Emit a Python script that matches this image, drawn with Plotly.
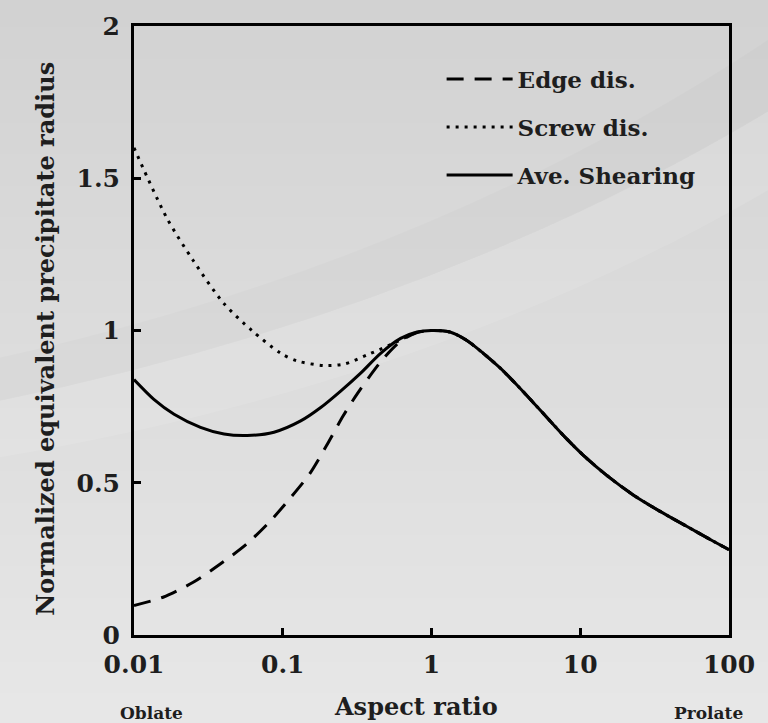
import plotly.graph_objects as go

# ---------------- data ----------------
prolate_x = [1.33, 1.72, 2.23, 2.89, 3.74, 4.84, 6.27, 8.11, 10.5, 15.0, 22.7, 34.4, 51.9, 78.5, 100]
prolate_y = [0.995, 0.968, 0.925, 0.877, 0.822, 0.763, 0.703, 0.644, 0.59, 0.525, 0.46, 0.406, 0.357, 0.308, 0.28]

edge_x = [0.01, 0.0157, 0.025, 0.038, 0.057, 0.082, 0.112, 0.152, 0.197, 0.255, 0.32, 0.46, 0.62, 0.8, 1.0]
edge_y = [0.097, 0.124, 0.173, 0.233, 0.298, 0.373, 0.449, 0.53, 0.622, 0.72, 0.795, 0.90, 0.965, 0.993, 1.0]

screw_x = [0.01, 0.0166, 0.025, 0.04, 0.062, 0.097, 0.125, 0.19, 0.26, 0.37, 0.54, 0.79, 1.0]
screw_y = [1.6, 1.37, 1.23, 1.09, 1.0, 0.925, 0.90, 0.885, 0.89, 0.92, 0.955, 0.993, 1.0]

ave_x = [0.01, 0.0136, 0.0186, 0.028, 0.0403, 0.0578, 0.0873, 0.132, 0.18, 0.245, 0.334, 0.455, 0.62, 0.8, 1.0]
ave_y = [0.839, 0.774, 0.725, 0.682, 0.66, 0.655, 0.666, 0.703, 0.747, 0.801, 0.860, 0.925, 0.974, 0.995, 1.0]

series_names = ["Edge dis.", "Screw dis.", "Ave. Shearing"]
x_tick_vals = [0.01, 0.1, 1, 10, 100]
x_tick_text = ["0.01", "0.1", "1", "10", "100"]
y_tick_vals = [0, 0.5, 1, 1.5, 2]
y_tick_text = ["0", "0.5", "1", "1.5", "2"]
x_title = "Aspect ratio"
y_title = "Normalized equivalent precipitate radius"
end_labels = ["Oblate", "Prolate"]

FONT = "DejaVu Serif"
TXT = "#1e1e1e"

fig = go.Figure()
fig.add_trace(go.Scatter(x=edge_x + prolate_x, y=edge_y + prolate_y, mode="lines",
                         name=series_names[0], legendgroup="a",
                         line=dict(color="black", width=3, dash="17px,11px", shape="spline", smoothing=0.8)))
fig.add_trace(go.Scatter(x=screw_x + prolate_x, y=screw_y + prolate_y, mode="lines",
                         name=series_names[1], legendgroup="b",
                         line=dict(color="black", width=3, dash="3px,6px", shape="spline", smoothing=0.8)))
fig.add_trace(go.Scatter(x=ave_x + prolate_x, y=ave_y + prolate_y, mode="lines",
                         name=series_names[2], legendgroup="c",
                         line=dict(color="black", width=3, shape="spline", smoothing=0.8)))

# background gradient (paper coordinates)
shapes = []
n = 24
top = (210, 210, 210)
bot = (232, 232, 232)
for i in range(n):
    t = i / (n - 1)
    c = tuple(int(round(top[k] + (bot[k] - top[k]) * t)) for k in range(3))
    y1 = 1.05 - i * (1.25 / n)
    y0 = y1 - 1.25 / n - 0.002
    shapes.append(dict(type="rect", xref="paper", yref="paper", x0=-0.3, x1=1.1, y0=y0, y1=y1,
                       fillcolor="rgb(%d,%d,%d)" % c, line=dict(width=0), layer="below"))
# subtle swoosh band
shapes.append(dict(type="path", xref="paper", yref="paper", layer="below",
                   path="M -0.3,0.37 Q 0.5,0.52 1.1,0.88 L 1.1,0.75 Q 0.5,0.40 -0.3,0.28 Z",
                   fillcolor="rgba(255,255,255,0.10)", line=dict(width=0)))
shapes.append(dict(type="path", xref="paper", yref="paper", layer="below",
                   path="M -0.3,0.44 Q 0.5,0.60 1.1,1.0 L 1.1,0.88 Q 0.5,0.52 -0.3,0.37 Z",
                   fillcolor="rgba(0,0,0,0.015)", line=dict(width=0)))

bold = lambda s: dict(family=FONT, size=s, weight="bold", color=TXT)

fig.update_layout(
    width=768, height=723,
    margin=dict(l=134, r=39, t=19, b=88),
    paper_bgcolor="rgb(222,222,222)",
    plot_bgcolor="rgba(0,0,0,0)",
    shapes=shapes,
    font=dict(family=FONT, color=TXT, size=22),
    showlegend=True,
    legend=dict(x=0.517, y=0.948, xanchor="left", yanchor="top",
                bgcolor="rgba(0,0,0,0)", font=bold(23),
                tracegroupgap=15, itemwidth=66),
    xaxis=dict(type="log", range=[-2, 2], tickmode="array", tickvals=x_tick_vals, ticktext=x_tick_text,
               showgrid=False, zeroline=False, showline=True, linecolor="black", linewidth=3, mirror=True,
               ticks="inside", ticklen=7, tickwidth=3, tickcolor="black",
               tickfont=bold(25), ticklabelstandoff=5),
    yaxis=dict(range=[0, 2], tickmode="array", tickvals=y_tick_vals, ticktext=y_tick_text,
               showgrid=False, zeroline=False, showline=True, linecolor="black", linewidth=3, mirror=True,
               ticks="inside", ticklen=7, tickwidth=3, tickcolor="black",
               tickfont=bold(25), ticklabelstandoff=6),
    annotations=[
        dict(text=x_title, xref="paper", yref="paper", x=0.474, y=-0.117, xanchor="center", yanchor="middle",
             showarrow=False, font=bold(24)),
        dict(text=y_title, xref="paper", yref="paper", x=-0.15, y=0.486, xanchor="center", yanchor="middle",
             textangle=-90, showarrow=False, font=bold(24)),
        dict(text=end_labels[0], xref="paper", yref="paper", x=0.03, y=-0.128, xanchor="center", yanchor="middle",
             showarrow=False, font=bold(17)),
        dict(text=end_labels[1], xref="paper", yref="paper", x=0.966, y=-0.128, xanchor="center", yanchor="middle",
             showarrow=False, font=bold(17)),
    ],
)

fig.write_html("out.html", config={"displayModeBar": False},
               post_script="document.body.style.margin='0px';")
